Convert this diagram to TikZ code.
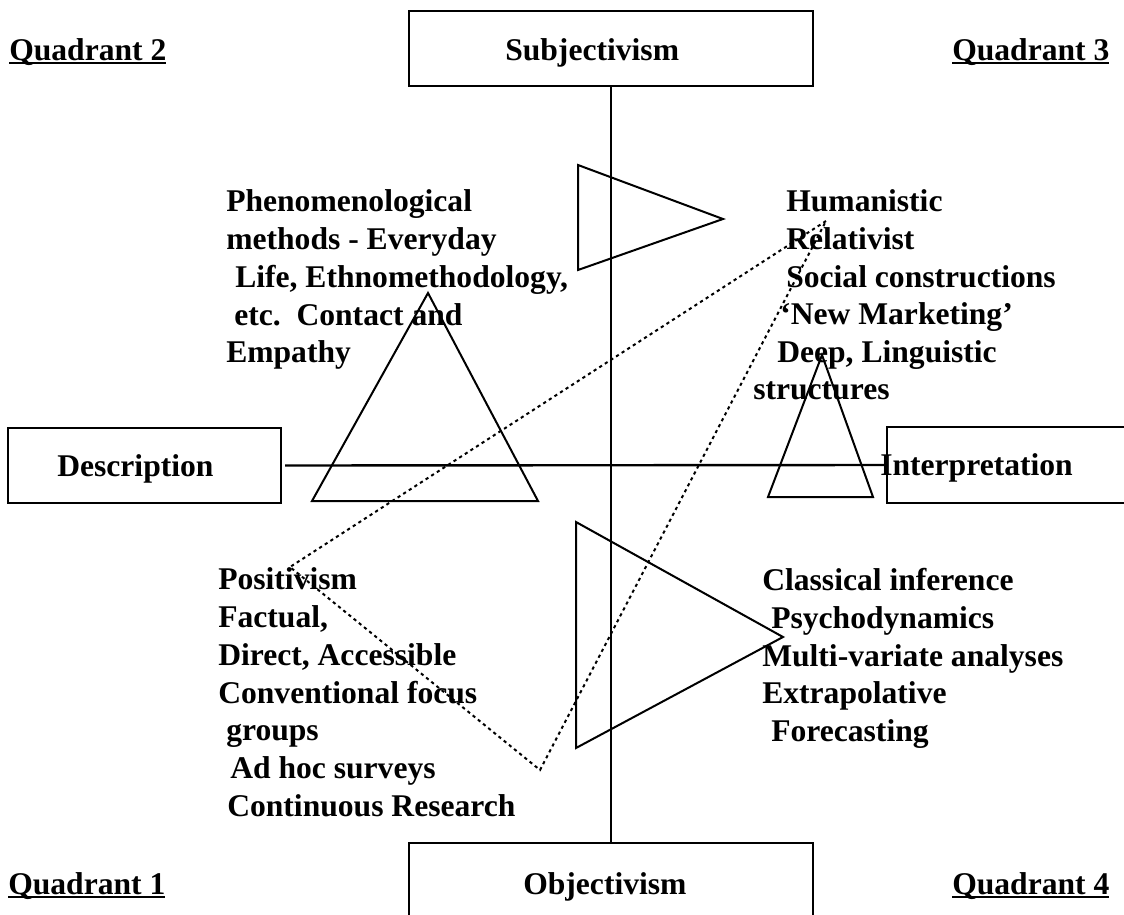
\documentclass[tikz,border=0pt]{standalone}
\usepackage{fontspec}
\setmainfont{Liberation Serif}
\newcommand{\qul}[1]{\setbox0\hbox{#1}\rlap{\rule[-3.3pt]{\wd0}{1.6pt}}\box0}
\begin{document}
\begin{tikzpicture}[x=0.75pt,y=-0.75pt,
  lbl/.style={font=\fontsize{23.7pt}{28pt}\selectfont\bfseries, inner sep=0pt, anchor=base west},
  frame/.style={draw, line width=1.5pt, inner sep=0pt},
  axis/.style={line width=1.8pt},
  tri/.style={line width=1.5pt, line join=miter},
  dots/.style={line width=1.5pt, dash pattern=on 2.4pt off 2.6pt}]
\useasboundingbox (0,0) rectangle (1124,914);
\clip (0,0) rectangle (1124,914);
\fill[white] (0,0) rectangle (1124,914);

% boxes
\node[frame, minimum width=303pt, minimum height=56.25pt] (subj) at (611,48.5) {};
\node[frame, minimum width=303pt, minimum height=56.25pt] (obj) at (611,880.5) {};
\node[frame, minimum width=204.75pt, minimum height=56.25pt] (desc) at (144.5,465.5) {};
\node[frame, minimum width=189.75pt, minimum height=57pt] (interp) at (1013.5,465) {};

% axes
\draw[axis] (subj.south) -- (obj.north);
\draw[axis, shorten <=2.25pt] (desc.east) -- (interp.west);

% triangles
\draw[tri] (578,165) -- (578,270) -- (723,219) -- cycle;
\draw[tri] (428,293) -- (312,501) -- (538,501) -- cycle;
\draw[tri] (822,355) -- (768,497) -- (873,497) -- cycle;
\draw[tri] (576,522) -- (576,748) -- (783,637) -- cycle;

% dotted triangle
\coordinate (d1) at (826,221);
\coordinate (d2) at (290,567);
\coordinate (d3) at (540,770);
\draw[dots] (d1) -- (d2) -- (d3) -- cycle;

% box labels
\node[lbl] (subjt) at (505,60) {Subjectivism};
\node[lbl] (objt) at (523,894) {Objectivism};
\node[lbl] (desct) at (57,476) {Description};
\node[lbl] (interpt) at (880,475) {Interpretation};

% quadrant labels
\node[lbl] (q2) at (9,60) {\qul{Quadrant 2}};
\node[lbl] (q3) at (952,60) {\qul{Quadrant 3}};
\node[lbl] (q1) at (8,894) {\qul{Quadrant 1}};
\node[lbl] (q4) at (952,894) {\qul{Quadrant 4}};

% quadrant 2 text
\node[lbl] (p1) at (226,211.5) {Phenomenological};
\node[lbl] (p2) at (226,249) {methods - Everyday};
\node[lbl] (p3) at (235,287) {Life, Ethnomethodology,};
\node[lbl] (p4) at (234,325) {etc.\ \ Contact and};
\node[lbl] (p5) at (226,362) {Empathy};

% quadrant 3 text
\node[lbl] (h1) at (786,211) {Humanistic};
\node[lbl] (h2) at (786,249) {Relativist};
\node[lbl] (h3) at (786,287) {Social constructions};
\node[lbl] (h4) at (780,324) {‘New Marketing’};
\node[lbl] (h5) at (777,362) {Deep, Linguistic};
\node[lbl] (h6) at (753,399) {structures};

% quadrant 1 text
\node[lbl] (o1) at (218,589) {Positivism};
\node[lbl] (o2) at (218,627) {Factual,};
\node[lbl] (o3) at (218,665) {Direct, Accessible};
\node[lbl] (o4) at (218,703) {Conventional focus};
\node[lbl] (o5) at (226,740) {groups};
\node[lbl] (o6) at (230,778) {Ad hoc surveys};
\node[lbl] (o7) at (227,816) {Continuous Research};

% quadrant 4 text
\node[lbl] (c1) at (762,590) {Classical inference};
\node[lbl] (c2) at (771,628) {Psychodynamics};
\node[lbl] (c3) at (762,666) {Multi-variate analyses};
\node[lbl] (c4) at (762,703) {Extrapolative};
\node[lbl] (c5) at (771,741) {Forecasting};
\end{tikzpicture}
\end{document}
